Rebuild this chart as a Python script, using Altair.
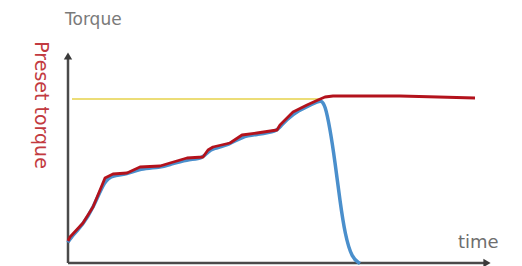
import altair as alt
import pandas as pd

# time (arbitrary units) and torque (arbitrary units)
red_t = [0, 2, 15, 25, 37, 45, 59, 72, 92, 102, 119, 135, 140, 145, 162, 174, 189, 209, 212, 225, 239, 250, 257, 265, 290, 332, 370, 407]
red_v = [22, 26, 40, 56, 85, 89, 90, 96, 97, 100, 105, 106, 113, 116, 120, 128, 130, 133, 138, 151, 158, 163, 166, 167, 167, 167, 166, 165]

blue_t = [0, 2, 15, 25, 37, 45, 59, 72, 92, 102, 119, 135, 140, 145, 162, 174, 189, 209, 212, 225, 239, 250, 253, 257, 262, 267, 272, 277, 284, 292]
blue_v = [22, 26, 40, 56, 85, 89, 90, 96, 97, 100, 105, 106, 113, 116, 120, 128, 130, 133, 138, 151, 158, 163, 164, 160, 136, 103, 63, 30, 6, 1]

preset_t = [4, 252]
preset_v = [164, 164]

red = pd.DataFrame({"t": red_t, "v": red_v})
blue = pd.DataFrame({"t": blue_t, "v": blue_v})
preset = pd.DataFrame({"t": preset_t, "v": preset_v})

xs = alt.Scale(domain=[0, 424], nice=False, zero=False)
ys = alt.Scale(domain=[0, 211], nice=False, zero=False)
X = lambda: alt.X("t:Q", scale=xs, axis=None)
Y = lambda: alt.Y("v:Q", scale=ys, axis=None)

yaxis = alt.Chart(pd.DataFrame({"t": [0, 0], "v": [0, 207]})).mark_line(
    color="#4a4a4a", strokeWidth=2.5).encode(x=X(), y=Y())
xaxis = alt.Chart(pd.DataFrame({"t": [0, 419], "v": [0, 0]})).mark_line(
    color="#4a4a4a", strokeWidth=2.5).encode(x=X(), y=Y())
arrow_up = alt.Chart(pd.DataFrame({"t": [0], "v": [207]})).mark_point(
    shape="triangle-up", filled=True, color="#3a3a3a", size=70, opacity=1).encode(x=X(), y=Y())
arrow_right = alt.Chart(pd.DataFrame({"t": [419], "v": [0]})).mark_point(
    shape="triangle-right", filled=True, color="#3a3a3a", size=70, opacity=1).encode(x=X(), y=Y())

preset_line = alt.Chart(preset).mark_line(color="#e6d24a", strokeWidth=1.5).encode(x=X(), y=Y())
blue_line = alt.Chart(blue).mark_line(color="#4a8fcc", strokeWidth=3.5, interpolate="basis").encode(
    x=X(), y=Y(), yOffset=alt.value(1.5))
red_line = alt.Chart(red).mark_line(color="#b3121c", strokeWidth=2.8, interpolate="linear",
                                     strokeJoin="round").encode(x=X(), y=Y())

font = "DejaVu Sans"
t_torque = alt.Chart(pd.DataFrame({"s": ["Torque"]})).mark_text(
    font=font, fontSize=17, color="#7a7a7a", align="left", baseline="middle").encode(
    text="s:N", x=alt.value(-3), y=alt.value(-32))
t_time = alt.Chart(pd.DataFrame({"s": ["time"]})).mark_text(
    font=font, fontSize=18, color="#6e6e6e", align="left", baseline="middle").encode(
    text="s:N", x=alt.value(390), y=alt.value(191))
t_preset = alt.Chart(pd.DataFrame({"s": ["Preset torque"]})).mark_text(
    font=font, fontSize=19, color="#c23a40", align="center", baseline="middle", angle=90).encode(
    text="s:N", x=alt.value(-27), y=alt.value(53))

chart = alt.layer(
    preset_line, yaxis, xaxis, arrow_up, arrow_right, blue_line, red_line,
    t_torque, t_time, t_preset
).properties(
    width=424, height=211,
    autosize=alt.AutoSizeParams(type="none"),
    padding={"left": 60, "top": 44, "right": 22, "bottom": 3},
    background="white",
).configure_view(stroke=None)

chart.save("out.html", embed_options={"renderer": "svg", "actions": False})
